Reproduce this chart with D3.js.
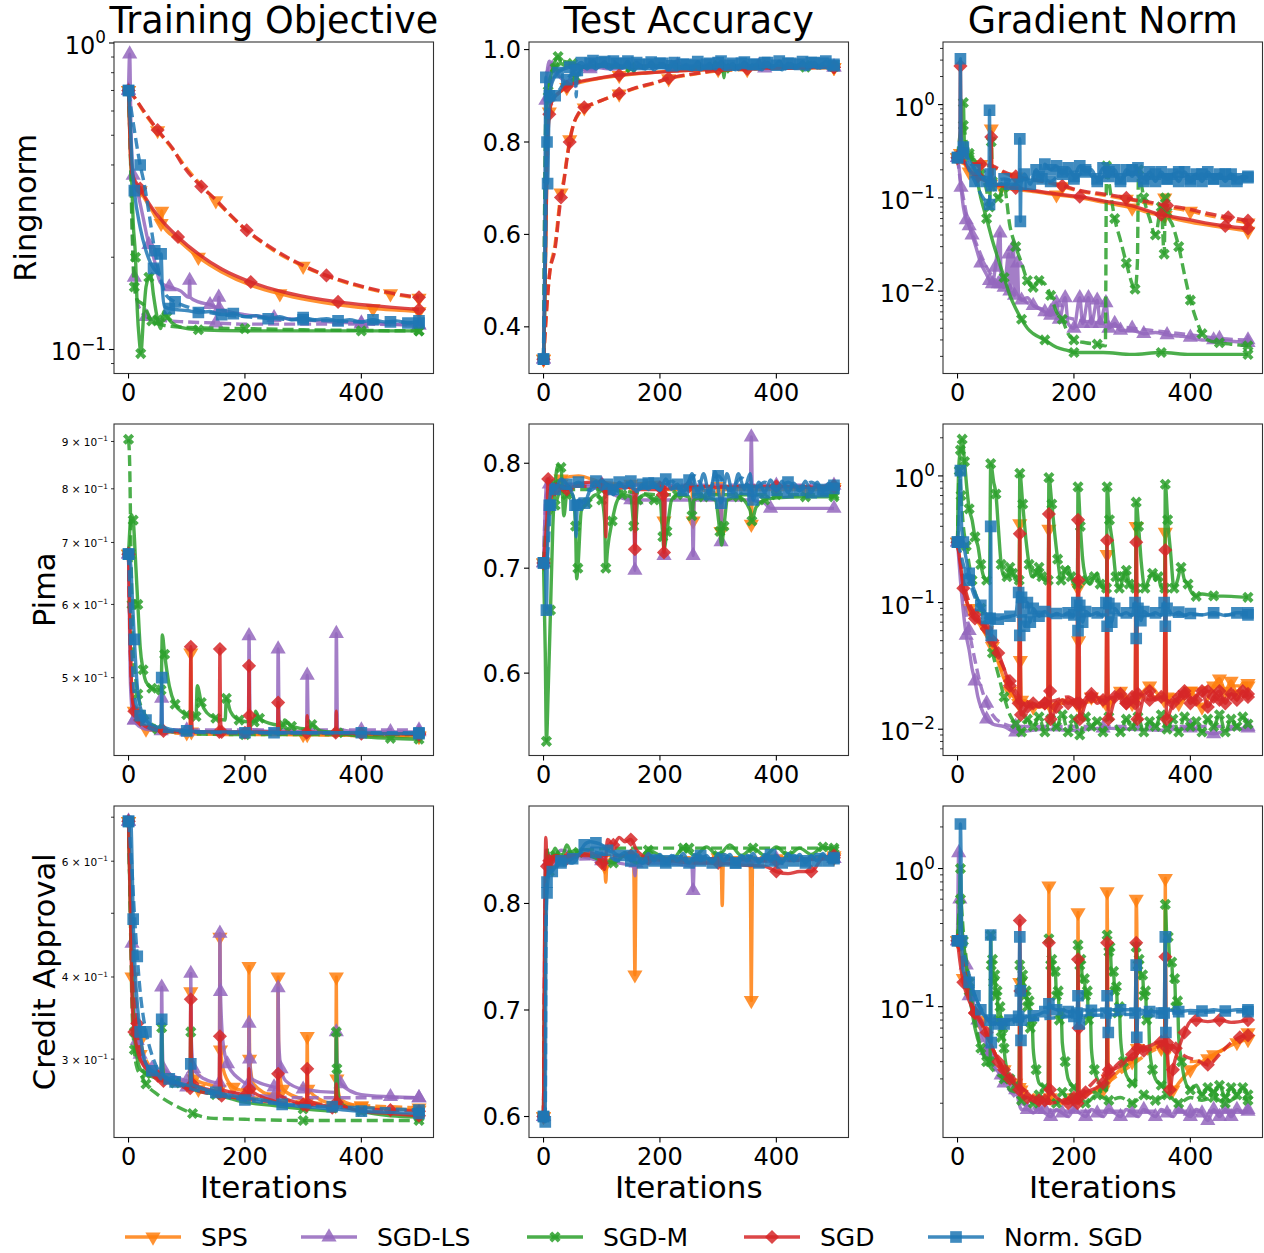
<!DOCTYPE html>
<html><head><meta charset="utf-8">
<script src="https://cdn.jsdelivr.net/npm/d3@7"></script>
<style>body{margin:0;background:#fff}svg{display:block}text{font-family:"DejaVu Sans",sans-serif;fill:#000}</style>
</head><body><svg id="chart" width="1264" height="1253"></svg>
<script>
// ---------------- categories / labels ----------------
const methods = ["SPS", "SGD-LS", "SGD-M", "SGD", "Norm. SGD"];
const colors = ["#ff7f0e", "#9467bd", "#2ca02c", "#d62728", "#1f77b4"];
const datasets = ["Ringnorm", "Pima", "Credit Approval"];
const metrics = ["Training Objective", "Test Accuracy", "Gradient Norm"];
const xTicks = [0, 200, 400];
const xLabel = "Iterations";

// ---------------- data: flat [iteration, value, ...] ----------------
// Ringnorm - training objective
const ro_sps_s = [0,0.70, 3,0.44, 6,0.37, 20,0.33, 40,0.285, 56,0.258, 57,0.283, 58,0.256, 85,0.228, 120,0.2, 160,0.179, 210,0.162, 260,0.152, 310,0.145, 360,0.14, 420,0.136, 475,0.134, 499,0.133];
const ro_sps_d = [0,0.70, 10,0.665, 25,0.60, 50,0.518, 75,0.452, 100,0.39, 150,0.306, 200,0.247, 250,0.21, 300,0.187, 350,0.171, 400,0.16, 450,0.152, 499,0.147];
const ro_ls_s = [0,0.70, 2,0.92, 4,0.55, 8,0.37, 15,0.33, 25,0.27, 35,0.22, 43,0.2, 55,0.165, 70,0.16, 90,0.155, 104,0.148, 105,0.168, 106,0.148, 120,0.143, 140,0.14, 154,0.137, 155,0.148, 156,0.136, 180,0.132, 200,0.13, 250,0.127, 300,0.125, 350,0.123, 400,0.122, 450,0.121, 499,0.12];
const ro_ls_d = [0,0.70, 4,0.40, 8,0.20, 10,0.172, 15,0.143, 20,0.135, 30,0.128, 50,0.125, 100,0.123, 150,0.122, 200,0.121, 300,0.121, 400,0.121, 499,0.12];
const ro_m_s = [0,0.70, 5,0.38, 8,0.26, 12,0.20, 15,0.135, 19,0.105, 21,0.097, 26,0.13, 30,0.16, 35,0.172, 38,0.175, 43,0.15, 50,0.125, 55,0.117, 61,0.133, 66,0.128, 75,0.122, 90,0.118, 120,0.116, 200,0.115, 300,0.115, 400,0.115, 499,0.115];
const ro_m_d = [0,0.70, 3,0.45, 6,0.25, 10,0.16, 15,0.145, 26,0.14, 40,0.124, 60,0.12, 100,0.118, 200,0.117, 300,0.116, 499,0.115];
const ro_sgd_s = [0,0.70, 3,0.45, 6,0.375, 20,0.335, 40,0.29, 60,0.26, 85,0.233, 120,0.205, 160,0.183, 210,0.166, 260,0.155, 310,0.148, 360,0.143, 420,0.139, 499,0.135];
const ro_sgd_d = [0,0.70, 10,0.665, 25,0.605, 50,0.52, 75,0.455, 93,0.40, 125,0.34, 150,0.308, 175,0.275, 203,0.245, 250,0.212, 300,0.188, 340,0.1745, 400,0.161, 450,0.153, 499,0.148];
const ro_n_s = [0,0.70, 3,0.55, 6,0.405, 10,0.33, 20,0.25, 30,0.21, 43,0.184, 50,0.178, 55,0.175, 56,0.205, 58,0.16, 62,0.138, 70,0.136, 80,0.135, 100,0.134, 120,0.132, 140,0.133, 160,0.13, 180,0.131, 200,0.128, 220,0.129, 240,0.126, 260,0.128, 280,0.125, 300,0.127, 320,0.125, 340,0.126, 360,0.124, 380,0.125, 400,0.123, 420,0.125, 440,0.123, 460,0.124, 480,0.122, 499,0.124];
const ro_n_d = [0,0.70, 5,0.60, 10,0.52, 20,0.40, 26,0.355, 35,0.28, 45,0.21, 55,0.17, 65,0.15, 80,0.143, 100,0.138, 130,0.133, 160,0.13, 200,0.128, 250,0.126, 300,0.125, 350,0.124, 400,0.123, 450,0.123, 499,0.122];

// Ringnorm - test accuracy
const ra_sps_s = [0,0.33, 3,0.52, 6,0.76, 10,0.865, 15,0.89, 25,0.905, 40,0.918, 60,0.928, 80,0.934, 130,0.944, 180,0.95, 250,0.955, 300,0.957, 350,0.96, 400,0.96, 499,0.961];
const ra_sps_d = [0,0.33, 10,0.51, 20,0.58, 30,0.69, 35,0.72, 40,0.765, 45,0.805, 52,0.84, 60,0.86, 70,0.874, 85,0.882, 100,0.89, 130,0.904, 160,0.917, 190,0.927, 215,0.937, 260,0.947, 300,0.954, 350,0.957, 400,0.96, 499,0.961];
const ra_ls_s = [0,0.33, 2,0.48, 3,0.70, 4,0.89, 7,0.96, 10,0.975, 15,0.96, 25,0.945, 40,0.93, 50,0.935, 55,0.92, 60,0.95, 80,0.962, 120,0.958, 170,0.965, 220,0.96, 270,0.966, 320,0.96, 370,0.965, 420,0.96, 470,0.964, 499,0.962];
const ra_ls_d = [0,0.33, 3,0.75, 6,0.83, 10,0.90, 20,0.95, 40,0.96, 80,0.958, 130,0.965, 180,0.96, 230,0.966, 280,0.96, 330,0.965, 380,0.96, 430,0.966, 499,0.962];
const ra_m_s = [0,0.33, 3,0.53, 5,0.86, 8,0.91, 15,0.955, 20,0.975, 25,0.985, 30,0.97, 40,0.965, 50,0.97, 70,0.962, 100,0.968, 150,0.962, 200,0.966, 250,0.96, 300,0.962, 308,0.96, 310,0.939, 312,0.96, 350,0.965, 400,0.962, 450,0.966, 499,0.963];
const ra_m_d = [0,0.33, 4,0.86, 10,0.93, 20,0.96, 30,0.975, 45,0.97, 55,0.94, 60,0.96, 100,0.965, 150,0.96, 200,0.965, 250,0.962, 300,0.966, 350,0.96, 400,0.965, 450,0.962, 499,0.964];
const ra_sgd_s = [0,0.33, 3,0.52, 6,0.75, 10,0.86, 15,0.89, 25,0.905, 40,0.92, 60,0.93, 80,0.935, 130,0.945, 180,0.95, 250,0.955, 300,0.958, 350,0.96, 400,0.96, 499,0.962];
const ra_sgd_d = [0,0.33, 10,0.51, 20,0.57, 30,0.68, 35,0.714, 40,0.76, 45,0.80, 52,0.84, 60,0.862, 70,0.875, 85,0.883, 100,0.89, 130,0.905, 160,0.918, 190,0.928, 215,0.938, 260,0.948, 300,0.955, 350,0.958, 400,0.96, 499,0.962];
const ra_n_s = [0,0.33, 2,0.53, 4,0.94, 7,0.71, 10,0.90, 15,0.93, 25,0.95, 35,0.958, 45,0.962, 55,0.965, 65,0.972, 75,0.958, 85,0.976, 95,0.962, 105,0.974, 115,0.957, 125,0.97, 135,0.96, 145,0.975, 155,0.955, 165,0.968, 175,0.958, 185,0.973, 195,0.96, 205,0.97, 215,0.956, 225,0.972, 235,0.96, 245,0.968, 255,0.956, 265,0.974, 275,0.96, 285,0.97, 295,0.958, 305,0.975, 315,0.96, 325,0.97, 335,0.957, 345,0.973, 355,0.96, 365,0.968, 375,0.956, 385,0.972, 395,0.962, 405,0.975, 415,0.958, 425,0.97, 435,0.96, 445,0.974, 455,0.957, 465,0.972, 475,0.96, 485,0.975, 495,0.96, 499,0.968];
const ra_n_d = [0,0.33, 3,0.53, 6,0.80, 10,0.88, 20,0.90, 29,0.916, 40,0.935, 50,0.95, 55,0.955, 56,0.898, 58,0.955, 70,0.962, 80,0.97, 90,0.958, 100,0.972, 110,0.96, 120,0.975, 130,0.962, 140,0.97, 150,0.957, 160,0.972, 170,0.96, 180,0.968, 190,0.956, 200,0.97, 210,0.96, 220,0.965, 230,0.956, 240,0.968, 250,0.958, 260,0.966, 270,0.956, 280,0.968, 290,0.96, 300,0.972, 310,0.958, 320,0.966, 330,0.956, 340,0.97, 350,0.96, 360,0.968, 370,0.958, 380,0.972, 390,0.96, 400,0.966, 410,0.956, 420,0.97, 430,0.96, 440,0.968, 450,0.956, 460,0.972, 470,0.96, 480,0.97, 490,0.958, 499,0.965];

// Ringnorm - gradient norm
const rg_sps_s = [0,0.27, 5,0.3, 10,0.25, 20,0.19, 35,0.165, 50,0.15, 57,0.14, 58,0.55, 59,0.14, 75,0.13, 100,0.123, 130,0.117, 170,0.108, 210,0.1, 250,0.09, 300,0.078, 355,0.065, 356,0.1, 357,0.065, 400,0.055, 460,0.048, 499,0.044];
const rg_sps_d = [0,0.27, 10,0.235, 20,0.232, 40,0.228, 60,0.215, 80,0.185, 100,0.168, 125,0.158, 150,0.148, 180,0.132, 210,0.118, 250,0.107, 290,0.097, 330,0.087, 360,0.08, 400,0.072, 430,0.065, 465,0.059, 499,0.054];
const rg_ls_s = [0,0.27, 3,0.2, 6,0.13, 10,0.08, 15,0.058, 20,0.05, 25,0.04, 30,0.032, 40,0.02, 50,0.015, 55,0.013, 60,0.012, 65,0.018, 73,0.042, 75,0.012, 80,0.011, 88,0.025, 90,0.01, 96,0.03, 98,0.009, 103,0.02, 105,0.009, 110,0.008, 120,0.0085, 130,0.007, 140,0.0065, 150,0.006, 160,0.0055, 170,0.0075, 175,0.005, 185,0.0085, 190,0.0045, 200,0.004, 210,0.0085, 215,0.0045, 225,0.0085, 230,0.0045, 240,0.008, 245,0.0045, 255,0.0075, 260,0.004, 270,0.0045, 280,0.0038, 300,0.0038, 320,0.0035, 340,0.0036, 360,0.0034, 380,0.0033, 400,0.0032, 420,0.003, 440,0.003, 470,0.0029, 499,0.0028];
const rg_ls_d = [0,0.27, 5,0.15, 10,0.1, 20,0.05, 30,0.035, 50,0.018, 70,0.012, 100,0.009, 130,0.007, 160,0.006, 200,0.005, 250,0.0045, 300,0.004, 350,0.0037, 400,0.0034, 450,0.0031, 499,0.003];
const rg_m_s = [0,0.27, 5,0.4, 8,0.6, 10,1.05, 12,0.35, 15,0.3, 20,0.28, 30,0.2, 40,0.1, 50,0.06, 60,0.035, 70,0.022, 80,0.014, 90,0.009, 100,0.0065, 110,0.005, 120,0.004, 130,0.0035, 150,0.003, 170,0.0025, 190,0.0023, 200,0.0022, 250,0.0022, 300,0.0021, 350,0.0022, 400,0.0021, 450,0.0021, 499,0.0021];
const rg_m_d = [0,0.27, 5,0.5, 10,0.6, 15,0.4, 20,0.3, 30,0.25, 40,0.18, 50,0.12, 55,0.08, 58,0.4, 60,0.15, 70,0.1, 80,0.13, 90,0.05, 100,0.03, 110,0.02, 120,0.013, 130,0.011, 140,0.013, 150,0.012, 160,0.009, 170,0.006, 180,0.005, 190,0.0035, 200,0.003, 220,0.0028, 240,0.0027, 254,0.0026, 256,0.22, 260,0.15, 270,0.06, 280,0.035, 290,0.02, 300,0.012, 305,0.0105, 309,0.02, 311,0.2, 315,0.15, 320,0.1, 330,0.06, 340,0.04, 350,0.08, 355,0.025, 357,0.1, 360,0.07, 370,0.05, 380,0.03, 390,0.015, 400,0.008, 410,0.005, 420,0.0035, 430,0.003, 450,0.0028, 470,0.0027, 499,0.0026];
const rg_sgd_s = [0,0.27, 4,0.27, 5,2.6, 6,0.3, 10,0.26, 20,0.2, 35,0.17, 50,0.15, 57,0.14, 58,0.45, 59,0.14, 75,0.135, 100,0.128, 130,0.12, 170,0.11, 210,0.103, 250,0.093, 300,0.082, 350,0.066, 400,0.058, 425,0.054, 460,0.05, 499,0.047];
const rg_sgd_d = [0,0.27, 10,0.24, 20,0.235, 40,0.23, 60,0.22, 80,0.19, 100,0.17, 125,0.16, 150,0.15, 180,0.135, 210,0.12, 250,0.11, 290,0.1, 305,0.095, 330,0.09, 360,0.083, 400,0.075, 430,0.068, 465,0.062, 499,0.057];
const rg_n_s = [0,0.27, 4,0.27, 5,3.1, 6,0.45, 10,0.35, 20,0.25, 30,0.2, 40,0.17, 50,0.15, 54,0.14, 55,0.87, 56,0.15, 58,0.135, 70,0.14, 90,0.14, 106,0.14, 107,0.43, 108,0.056, 109,0.14, 115,0.18, 125,0.14, 135,0.2, 145,0.16, 150,0.23, 160,0.2, 170,0.22, 180,0.18, 190,0.21, 200,0.17, 210,0.22, 220,0.19, 230,0.2, 240,0.16, 250,0.21, 260,0.17, 270,0.2, 280,0.15, 290,0.2, 300,0.17, 310,0.21, 320,0.16, 330,0.19, 340,0.15, 350,0.19, 360,0.16, 370,0.18, 380,0.15, 390,0.19, 400,0.16, 410,0.18, 420,0.15, 430,0.19, 440,0.16, 450,0.18, 460,0.15, 470,0.18, 480,0.16, 490,0.17, 499,0.165];
const rg_n_d = [0,0.27, 10,0.3, 20,0.2, 30,0.15, 40,0.11, 50,0.09, 55,0.085, 56,0.18, 60,0.15, 80,0.16, 100,0.15, 120,0.16, 140,0.17, 160,0.15, 180,0.19, 200,0.16, 220,0.2, 240,0.15, 260,0.19, 280,0.16, 300,0.2, 320,0.15, 340,0.18, 360,0.16, 380,0.19, 400,0.15, 420,0.18, 440,0.16, 460,0.18, 480,0.15, 499,0.17];

// Pima - training objective
const po_sps_s = [0,0.68, 3,0.55, 6,0.48, 10,0.46, 20,0.447, 40,0.44, 100,0.436, 106,0.436, 107,0.532, 108,0.437, 200,0.435, 300,0.434, 307,0.434, 400,0.433, 499,0.432];
const po_sps_d = [0,0.68, 5,0.5, 10,0.46, 30,0.44, 100,0.435, 200,0.434, 300,0.434, 400,0.433, 499,0.433];
const po_ls_s = [0,0.68, 3,0.50, 6,0.462, 10,0.45, 15,0.445, 30,0.44, 56,0.438, 57,0.475, 58,0.438, 100,0.437, 150,0.437, 206,0.437, 207,0.555, 209,0.44, 256,0.437, 257,0.537, 259,0.44, 306,0.437, 307,0.503, 309,0.44, 356,0.437, 357,0.558, 359,0.44, 400,0.437, 450,0.437, 499,0.437];
const po_ls_d = [0,0.68, 3,0.55, 6,0.47, 10,0.45, 20,0.443, 50,0.44, 100,0.439, 200,0.439, 300,0.439, 400,0.439, 499,0.439];
const po_m_s = [0,0.68, 5,0.75, 8,0.74, 12,0.67, 16,0.60, 20,0.54, 25,0.51, 30,0.495, 40,0.487, 50,0.485, 56,0.485, 58,0.556, 62,0.53, 70,0.49, 80,0.468, 90,0.46, 100,0.456, 110,0.455, 116,0.454, 118,0.49, 125,0.47, 135,0.458, 150,0.452, 166,0.45, 168,0.475, 175,0.46, 190,0.45, 210,0.448, 216,0.448, 218,0.46, 225,0.452, 250,0.445, 266,0.444, 268,0.45, 280,0.443, 310,0.44, 315,0.445, 330,0.438, 360,0.436, 400,0.432, 450,0.43, 499,0.429];
const po_m_d = [0,0.905, 2,0.85, 4,0.70, 6,0.60, 8,0.53, 12,0.50, 16,0.48, 25,0.46, 35,0.45, 50,0.44, 80,0.437, 100,0.435, 200,0.434, 300,0.434, 400,0.434, 499,0.434];
const po_sgd_s = [0,0.68, 3,0.54, 6,0.48, 10,0.46, 20,0.448, 40,0.44, 60,0.438, 100,0.437, 106,0.437, 107,0.54, 108,0.467, 110,0.437, 156,0.437, 157,0.537, 158,0.452, 160,0.437, 206,0.437, 207,0.515, 208,0.455, 210,0.437, 256,0.437, 257,0.47, 258,0.45, 260,0.437, 306,0.436, 307,0.455, 308,0.437, 356,0.436, 357,0.46, 358,0.437, 400,0.435, 450,0.435, 499,0.434];
const po_sgd_d = [0,0.68, 3,0.54, 8,0.47, 20,0.45, 50,0.44, 100,0.437, 200,0.436, 300,0.436, 400,0.435, 499,0.435];
const po_n_s = [0,0.68, 4,0.66, 6,0.62, 10,0.55, 15,0.49, 20,0.465, 30,0.45, 45,0.443, 56,0.442, 57,0.50, 58,0.443, 70,0.44, 100,0.438, 150,0.437, 200,0.437, 250,0.436, 300,0.436, 350,0.436, 400,0.436, 450,0.435, 499,0.435];
const po_n_d = [0,0.68, 5,0.55, 10,0.48, 20,0.455, 40,0.44, 80,0.437, 200,0.436, 300,0.436, 400,0.436, 499,0.436];

// Pima - test accuracy
const pa_sps_s = [0,0.705, 5,0.74, 10,0.77, 30,0.785, 60,0.788, 100,0.782, 150,0.78, 200,0.782, 205,0.77, 207,0.745, 209,0.775, 255,0.775, 257,0.745, 259,0.775, 303,0.77, 305,0.735, 307,0.775, 355,0.775, 357,0.742, 359,0.775, 400,0.775, 450,0.775, 499,0.775];
const pa_sps_d = [0,0.705, 5,0.73, 10,0.76, 30,0.78, 100,0.78, 200,0.778, 300,0.778, 400,0.777, 499,0.777];
const pa_ls_s = [0,0.705, 3,0.76, 6,0.785, 10,0.78, 30,0.78, 100,0.775, 150,0.765, 155,0.765, 157,0.698, 159,0.765, 200,0.765, 205,0.765, 207,0.712, 209,0.765, 255,0.765, 257,0.712, 259,0.765, 303,0.765, 305,0.725, 307,0.765, 355,0.765, 357,0.825, 359,0.765, 380,0.762, 390,0.757, 440,0.757, 499,0.757];
const pa_ls_d = [0,0.705, 5,0.77, 20,0.78, 100,0.78, 200,0.779, 300,0.779, 400,0.779, 499,0.779];
const pa_m_s = [0,0.705, 3,0.62, 5,0.535, 8,0.583, 12,0.66, 16,0.74, 20,0.78, 25,0.798, 30,0.796, 35,0.75, 40,0.77, 50,0.77, 55,0.74, 57,0.69, 59,0.70, 65,0.755, 75,0.762, 90,0.77, 100,0.765, 105,0.745, 107,0.70, 110,0.718, 118,0.745, 125,0.762, 135,0.77, 150,0.768, 155,0.74, 157,0.735, 162,0.765, 175,0.77, 190,0.765, 200,0.765, 205,0.73, 207,0.718, 212,0.735, 220,0.765, 230,0.77, 250,0.768, 255,0.75, 258,0.765, 275,0.768, 295,0.765, 303,0.735, 306,0.722, 310,0.74, 316,0.765, 335,0.768, 355,0.755, 358,0.745, 365,0.758, 380,0.765, 400,0.767, 450,0.768, 499,0.768];
const pa_m_d = [0,0.705, 5,0.74, 10,0.75, 20,0.76, 30,0.775, 50,0.775, 100,0.775, 200,0.77, 300,0.77, 400,0.77, 499,0.77];
const pa_sgd_s = [0,0.705, 3,0.725, 6,0.75, 8,0.785, 12,0.775, 20,0.78, 40,0.775, 60,0.78, 80,0.782, 100,0.78, 105,0.775, 107,0.73, 109,0.775, 150,0.777, 155,0.775, 157,0.718, 159,0.775, 200,0.775, 205,0.77, 207,0.715, 209,0.775, 250,0.778, 300,0.777, 350,0.778, 400,0.778, 450,0.777, 499,0.778];
const pa_sgd_d = [0,0.705, 5,0.72, 10,0.76, 20,0.775, 50,0.778, 100,0.778, 200,0.777, 300,0.778, 400,0.778, 499,0.778];
const pa_n_s = [0,0.705, 3,0.705, 5,0.66, 7,0.725, 10,0.76, 15,0.78, 20,0.775, 30,0.785, 40,0.78, 50,0.77, 54,0.76, 56,0.73, 58,0.76, 60,0.765, 70,0.762, 80,0.775, 90,0.783, 100,0.775, 110,0.78, 120,0.77, 130,0.782, 140,0.776, 150,0.783, 160,0.773, 170,0.78, 180,0.775, 190,0.781, 200,0.774, 210,0.785, 220,0.775, 230,0.78, 240,0.772, 250,0.784, 255,0.79, 265,0.772, 275,0.79, 285,0.77, 295,0.792, 305,0.762, 315,0.79, 325,0.772, 335,0.79, 345,0.775, 355,0.79, 360,0.765, 370,0.782, 380,0.772, 390,0.784, 400,0.774, 410,0.783, 420,0.772, 430,0.781, 440,0.774, 450,0.783, 460,0.772, 470,0.782, 480,0.773, 490,0.781, 499,0.776];
const pa_n_d = [0,0.705, 4,0.70, 8,0.72, 12,0.76, 20,0.78, 40,0.776, 60,0.782, 80,0.774, 100,0.783, 120,0.775, 140,0.782, 160,0.774, 180,0.781, 200,0.775, 220,0.783, 240,0.774, 260,0.788, 280,0.772, 300,0.788, 320,0.774, 340,0.786, 360,0.774, 380,0.782, 400,0.775, 420,0.782, 440,0.774, 460,0.782, 480,0.775, 499,0.779];

// Pima - gradient norm
const pg_sps_s = [0,0.3, 10,0.13, 20,0.09, 40,0.065, 60,0.045, 80,0.025, 90,0.02, 100,0.017, 105,0.016, 107,0.42, 108,0.035, 110,0.016, 130,0.015, 155,0.015, 157,0.38, 158,0.06, 160,0.015, 180,0.017, 205,0.016, 207,0.13, 208,0.05, 210,0.015, 230,0.018, 255,0.016, 257,0.24, 258,0.03, 260,0.016, 280,0.02, 300,0.016, 305,0.018, 307,0.4, 309,0.018, 330,0.022, 355,0.017, 357,0.36, 358,0.04, 360,0.018, 380,0.016, 400,0.02, 420,0.015, 440,0.022, 450,0.025, 460,0.02, 470,0.024, 480,0.019, 490,0.023, 499,0.023];
const pg_sps_d = [0,0.3, 10,0.14, 30,0.08, 50,0.06, 70,0.035, 90,0.02, 110,0.017, 150,0.016, 200,0.016, 250,0.017, 300,0.018, 350,0.018, 400,0.02, 450,0.022, 499,0.022];
const pg_ls_s = [0,0.3, 5,0.15, 10,0.085, 15,0.055, 20,0.042, 25,0.03, 30,0.024, 35,0.018, 40,0.015, 50,0.012, 60,0.011, 80,0.0105, 100,0.0095, 150,0.01, 200,0.0098, 250,0.0102, 300,0.01, 350,0.0098, 400,0.0102, 440,0.0092, 470,0.01, 499,0.0102];
const pg_ls_d = [0,0.3, 5,0.2, 10,0.12, 20,0.06, 30,0.035, 40,0.022, 50,0.016, 60,0.013, 80,0.011, 100,0.0105, 200,0.0105, 300,0.0105, 400,0.0105, 499,0.0105];
const pg_m_s = [0,0.3, 2,1.15, 5,1.6, 8,1.95, 12,1.3, 16,0.8, 20,0.55, 25,0.45, 30,0.33, 35,0.28, 40,0.2, 45,0.16, 50,0.15, 55,0.15, 57,1.25, 62,0.9, 66,0.72, 70,0.4, 75,0.2, 80,0.16, 85,0.16, 90,0.19, 95,0.17, 100,0.15, 106,0.15, 107,1.05, 112,0.6, 118,0.3, 123,0.2, 128,0.16, 135,0.17, 140,0.19, 145,0.16, 150,0.15, 156,0.15, 157,0.97, 162,0.6, 167,0.35, 172,0.22, 178,0.15, 185,0.18, 190,0.19, 195,0.16, 200,0.14, 206,0.14, 207,0.82, 211,0.4, 215,0.22, 222,0.15, 228,0.14, 235,0.16, 240,0.17, 245,0.14, 250,0.13, 256,0.13, 257,0.82, 261,0.45, 266,0.3, 272,0.16, 278,0.13, 285,0.16, 290,0.18, 295,0.14, 300,0.13, 306,0.13, 307,0.62, 311,0.4, 316,0.2, 322,0.13, 328,0.15, 335,0.17, 340,0.15, 345,0.16, 350,0.13, 356,0.13, 357,0.86, 361,0.45, 366,0.25, 372,0.13, 378,0.15, 384,0.19, 390,0.15, 396,0.14, 400,0.125, 410,0.112, 420,0.117, 440,0.113, 470,0.112, 499,0.11];
const pg_m_d = [0,0.3, 3,1.1, 6,0.7, 10,0.4, 15,0.28, 20,0.2, 25,0.15, 30,0.12, 40,0.09, 50,0.06, 60,0.04, 70,0.027, 80,0.018, 90,0.013, 100,0.011, 110,0.0095, 120,0.012, 130,0.0105, 140,0.0125, 150,0.0095, 160,0.012, 170,0.0105, 180,0.013, 190,0.0095, 200,0.012, 210,0.009, 220,0.0125, 230,0.0105, 240,0.0115, 250,0.0095, 260,0.0125, 270,0.011, 280,0.0095, 290,0.012, 300,0.0105, 310,0.0125, 320,0.0095, 330,0.0115, 340,0.0105, 350,0.013, 360,0.01, 370,0.012, 380,0.0095, 390,0.0125, 400,0.0105, 410,0.0115, 420,0.0095, 430,0.012, 440,0.0105, 450,0.013, 460,0.0095, 470,0.012, 480,0.0105, 490,0.0125, 499,0.011];
const pg_sgd_s = [0,0.3, 5,0.2, 10,0.13, 20,0.09, 30,0.075, 40,0.068, 50,0.062, 60,0.05, 70,0.04, 80,0.03, 90,0.022, 100,0.018, 105,0.016, 107,0.35, 109,0.013, 120,0.015, 130,0.016, 140,0.015, 150,0.016, 155,0.016, 157,0.5, 158,0.16, 159,0.02, 160,0.012, 170,0.015, 180,0.017, 190,0.016, 200,0.017, 205,0.016, 207,0.45, 208,0.15, 209,0.065, 210,0.012, 220,0.016, 230,0.018, 240,0.016, 250,0.017, 255,0.016, 257,0.31, 258,0.065, 259,0.012, 270,0.017, 280,0.019, 290,0.016, 300,0.018, 305,0.016, 307,0.3, 308,0.15, 309,0.012, 320,0.018, 330,0.02, 340,0.017, 350,0.018, 355,0.017, 357,0.26, 358,0.07, 359,0.012, 370,0.016, 380,0.018, 390,0.02, 400,0.016, 410,0.018, 420,0.02, 430,0.015, 440,0.018, 450,0.02, 460,0.016, 470,0.019, 480,0.017, 490,0.02, 499,0.018];
const pg_sgd_d = [0,0.3, 10,0.15, 20,0.1, 30,0.08, 40,0.07, 50,0.063, 60,0.05, 70,0.038, 80,0.03, 90,0.024, 100,0.02, 110,0.017, 120,0.015, 130,0.016, 140,0.015, 150,0.016, 170,0.017, 190,0.018, 210,0.016, 230,0.019, 250,0.017, 270,0.018, 290,0.016, 310,0.019, 330,0.017, 350,0.018, 370,0.016, 390,0.019, 410,0.017, 430,0.02, 450,0.017, 470,0.019, 490,0.018, 499,0.019];
const pg_n_s = [0,0.3, 3,0.5, 5,1.1, 7,0.4, 10,0.3, 15,0.22, 20,0.17, 30,0.12, 40,0.095, 50,0.08, 56,0.075, 57,0.4, 58,0.055, 60,0.075, 70,0.074, 80,0.076, 90,0.078, 100,0.08, 105,0.12, 107,0.055, 110,0.11, 115,0.065, 120,0.1, 125,0.07, 130,0.09, 140,0.078, 150,0.085, 160,0.078, 170,0.082, 180,0.079, 190,0.083, 200,0.078, 205,0.1, 207,0.06, 210,0.095, 215,0.07, 220,0.085, 230,0.08, 240,0.083, 250,0.078, 255,0.1, 257,0.065, 260,0.098, 265,0.07, 270,0.09, 280,0.08, 290,0.083, 300,0.079, 305,0.1, 307,0.052, 310,0.09, 315,0.072, 320,0.085, 330,0.08, 340,0.083, 350,0.079, 355,0.1, 357,0.065, 360,0.09, 370,0.08, 380,0.084, 390,0.079, 400,0.082, 420,0.08, 440,0.083, 460,0.079, 480,0.083, 499,0.083];
const pg_n_d = [0,0.3, 5,0.25, 10,0.2, 20,0.15, 30,0.11, 40,0.09, 50,0.075, 60,0.075, 100,0.078, 200,0.08, 300,0.08, 400,0.08, 499,0.08];

// Credit Approval - training objective
const co_sps_s = [0,0.69, 3,0.52, 6,0.4, 10,0.34, 20,0.305, 40,0.29, 60,0.282, 80,0.278, 100,0.275, 106,0.274, 107,0.38, 108,0.3, 112,0.28, 150,0.272, 156,0.27, 157,0.46, 158,0.31, 165,0.285, 180,0.272, 200,0.268, 206,0.267, 207,0.415, 208,0.3, 215,0.275, 250,0.263, 256,0.262, 257,0.40, 258,0.3, 265,0.27, 300,0.26, 306,0.258, 307,0.325, 308,0.27, 350,0.256, 356,0.255, 357,0.40, 358,0.28, 365,0.26, 400,0.254, 450,0.252, 499,0.251];
const co_sps_d = [0,0.69, 5,0.5, 10,0.4, 20,0.32, 40,0.29, 80,0.277, 120,0.27, 200,0.263, 300,0.258, 400,0.255, 499,0.253];
const co_ls_s = [0,0.69, 3,0.55, 6,0.45, 10,0.36, 15,0.32, 20,0.305, 40,0.29, 56,0.285, 57,0.386, 58,0.32, 60,0.29, 80,0.282, 100,0.278, 106,0.277, 107,0.405, 108,0.32, 112,0.29, 130,0.28, 156,0.276, 157,0.466, 158,0.38, 162,0.32, 170,0.295, 190,0.28, 206,0.275, 207,0.34, 208,0.3, 212,0.28, 250,0.272, 256,0.271, 257,0.385, 258,0.32, 262,0.29, 270,0.278, 300,0.27, 356,0.267, 357,0.33, 358,0.3, 365,0.275, 400,0.265, 450,0.263, 499,0.262];
const co_ls_d = [0,0.69, 5,0.45, 10,0.34, 20,0.305, 30,0.29, 60,0.28, 100,0.272, 150,0.268, 200,0.265, 250,0.263, 300,0.262, 400,0.262, 499,0.262];
const co_m_s = [0,0.69, 3,0.52, 6,0.4, 10,0.33, 15,0.3, 20,0.29, 30,0.285, 50,0.28, 56,0.278, 57,0.335, 58,0.3, 62,0.28, 80,0.276, 100,0.272, 106,0.27, 107,0.33, 108,0.29, 112,0.27, 150,0.265, 200,0.258, 250,0.255, 300,0.252, 356,0.25, 357,0.33, 358,0.29, 362,0.26, 370,0.255, 400,0.25, 450,0.246, 499,0.245];
const co_m_d = [0,0.69, 3,0.5, 6,0.36, 10,0.31, 15,0.29, 20,0.285, 30,0.275, 50,0.265, 80,0.255, 110,0.248, 140,0.244, 200,0.243, 300,0.242, 400,0.242, 499,0.242];
const co_sgd_s = [0,0.69, 3,0.52, 6,0.37, 10,0.33, 20,0.3, 40,0.285, 60,0.278, 80,0.275, 100,0.272, 106,0.271, 107,0.37, 108,0.3, 110,0.275, 150,0.268, 156,0.267, 157,0.325, 158,0.285, 160,0.27, 200,0.264, 206,0.262, 207,0.29, 208,0.27, 250,0.259, 256,0.258, 257,0.285, 258,0.265, 300,0.256, 306,0.255, 307,0.29, 308,0.26, 350,0.253, 356,0.252, 357,0.275, 358,0.258, 400,0.25, 450,0.248, 499,0.246];
const co_sgd_d = [0,0.69, 5,0.52, 10,0.4, 15,0.34, 20,0.31, 30,0.295, 50,0.283, 80,0.275, 120,0.268, 160,0.264, 200,0.261, 250,0.258, 300,0.256, 350,0.254, 400,0.252, 450,0.251, 499,0.25];
const co_n_s = [0,0.69, 4,0.69, 6,0.605, 8,0.49, 12,0.40, 15,0.365, 20,0.33, 25,0.305, 30,0.295, 40,0.288, 50,0.285, 56,0.28, 57,0.345, 58,0.29, 60,0.282, 80,0.277, 100,0.274, 106,0.273, 107,0.295, 108,0.275, 120,0.272, 150,0.267, 200,0.262, 230,0.26, 264,0.256, 300,0.254, 350,0.252, 400,0.25, 450,0.249, 499,0.248];
const co_n_d = [0,0.69, 5,0.6, 10,0.5, 15,0.43, 20,0.38, 25,0.35, 30,0.33, 40,0.305, 50,0.29, 70,0.28, 100,0.272, 150,0.265, 200,0.26, 250,0.257, 300,0.255, 350,0.254, 400,0.253, 450,0.252, 499,0.251];

// Credit Approval - test accuracy
const ca_sps_s = [0,0.6, 3,0.78, 6,0.83, 20,0.84, 60,0.845, 100,0.845, 105,0.835, 107,0.82, 109,0.84, 150,0.845, 155,0.835, 157,0.733, 159,0.84, 200,0.842, 250,0.84, 305,0.84, 307,0.798, 309,0.84, 355,0.84, 357,0.709, 359,0.84, 400,0.842, 450,0.842, 499,0.845];
const ca_sps_d = [0,0.6, 3,0.78, 6,0.83, 20,0.84, 100,0.845, 200,0.843, 300,0.843, 400,0.843, 499,0.843];
const ca_ls_s = [0,0.6, 2,0.77, 4,0.85, 10,0.84, 30,0.85, 60,0.845, 100,0.84, 155,0.835, 157,0.826, 159,0.838, 200,0.838, 255,0.835, 257,0.812, 259,0.838, 300,0.838, 400,0.84, 499,0.842];
const ca_ls_d = [0,0.6, 3,0.8, 6,0.84, 100,0.842, 200,0.842, 300,0.842, 400,0.842, 499,0.842];
const ca_m_s = [0,0.6, 3,0.79, 6,0.85, 10,0.83, 15,0.845, 20,0.852, 30,0.84, 40,0.855, 50,0.845, 60,0.848, 80,0.845, 100,0.84, 120,0.838, 140,0.845, 160,0.838, 180,0.85, 200,0.845, 220,0.84, 240,0.852, 260,0.845, 280,0.853, 300,0.845, 320,0.855, 340,0.845, 360,0.852, 380,0.845, 400,0.853, 420,0.845, 440,0.852, 460,0.846, 480,0.853, 499,0.85];
const ca_m_d = [0,0.6, 4,0.8, 8,0.85, 20,0.845, 60,0.85, 150,0.852, 250,0.852, 350,0.852, 450,0.852, 499,0.852];
const ca_sgd_s = [0,0.6, 2,0.78, 4,0.862, 6,0.835, 10,0.84, 20,0.845, 40,0.842, 60,0.845, 80,0.848, 100,0.838, 105,0.832, 110,0.86, 120,0.855, 130,0.862, 140,0.858, 150,0.86, 160,0.85, 170,0.845, 180,0.842, 220,0.84, 260,0.838, 300,0.838, 340,0.836, 380,0.835, 400,0.83, 420,0.828, 440,0.83, 460,0.83, 480,0.843, 499,0.845];
const ca_sgd_d = [0,0.6, 3,0.78, 6,0.83, 10,0.84, 50,0.845, 100,0.845, 150,0.845, 200,0.842, 300,0.842, 400,0.84, 499,0.843];
const ca_n_s = [0,0.6, 2,0.6, 3,0.595, 4,0.755, 6,0.81, 10,0.828, 15,0.83, 20,0.835, 30,0.838, 40,0.84, 50,0.842, 60,0.845, 70,0.855, 80,0.858, 90,0.857, 100,0.855, 110,0.85, 120,0.848, 130,0.845, 140,0.848, 150,0.84, 160,0.846, 170,0.838, 180,0.847, 190,0.84, 200,0.846, 210,0.838, 220,0.845, 230,0.84, 240,0.847, 250,0.838, 260,0.846, 270,0.84, 280,0.845, 290,0.838, 300,0.847, 310,0.84, 320,0.846, 330,0.838, 340,0.845, 350,0.84, 360,0.847, 370,0.838, 380,0.846, 390,0.84, 400,0.845, 410,0.838, 420,0.847, 430,0.84, 440,0.846, 450,0.838, 460,0.845, 470,0.84, 480,0.847, 490,0.84, 499,0.843];
const ca_n_d = [0,0.6, 3,0.6, 4,0.76, 6,0.82, 10,0.83, 20,0.832, 30,0.84, 50,0.838, 70,0.85, 90,0.848, 110,0.845, 130,0.84, 150,0.845, 170,0.838, 190,0.845, 210,0.84, 230,0.846, 250,0.838, 270,0.845, 290,0.84, 310,0.846, 330,0.838, 350,0.845, 370,0.84, 390,0.846, 410,0.838, 430,0.845, 450,0.84, 470,0.846, 499,0.842];

// Credit Approval - gradient norm
const cg_sps_s = [0,0.3, 5,0.25, 10,0.16, 20,0.12, 40,0.08, 60,0.05, 80,0.035, 100,0.028, 106,0.026, 107,0.15, 109,0.025, 130,0.022, 150,0.021, 156,0.021, 157,0.75, 158,0.12, 159,0.022, 180,0.02, 200,0.021, 206,0.021, 207,0.48, 208,0.1, 209,0.022, 230,0.024, 250,0.025, 256,0.025, 257,0.68, 258,0.2, 259,0.03, 280,0.035, 300,0.04, 306,0.042, 307,0.6, 308,0.4, 309,0.05, 330,0.05, 350,0.052, 356,0.05, 357,0.85, 358,0.1, 359,0.05, 365,0.03, 370,0.025, 380,0.028, 400,0.035, 420,0.04, 440,0.045, 460,0.05, 480,0.055, 499,0.058];
const cg_sps_d = [0,0.3, 10,0.2, 20,0.12, 40,0.075, 60,0.05, 80,0.035, 100,0.028, 130,0.023, 160,0.021, 200,0.022, 250,0.027, 300,0.038, 350,0.05, 370,0.045, 400,0.04, 430,0.042, 460,0.05, 480,0.058, 499,0.065];
const cg_ls_s = [0,0.3, 2,1.3, 4,0.6, 8,0.35, 15,0.2, 25,0.12, 35,0.08, 45,0.06, 55,0.045, 65,0.036, 75,0.032, 90,0.028, 100,0.025, 110,0.018, 120,0.018, 130,0.017, 140,0.018, 150,0.017, 160,0.016, 170,0.018, 180,0.017, 190,0.016, 200,0.018, 210,0.017, 220,0.016, 230,0.018, 240,0.017, 250,0.016, 260,0.018, 270,0.017, 280,0.016, 290,0.018, 300,0.017, 310,0.016, 320,0.018, 330,0.017, 340,0.016, 350,0.018, 360,0.017, 370,0.016, 380,0.018, 390,0.017, 400,0.016, 410,0.018, 420,0.017, 430,0.015, 440,0.018, 450,0.016, 460,0.018, 470,0.016, 480,0.018, 490,0.017, 499,0.018];
const cg_ls_d = [0,0.3, 5,0.3, 10,0.25, 20,0.12, 30,0.08, 40,0.06, 50,0.048, 60,0.038, 70,0.032, 80,0.028, 100,0.022, 120,0.019, 150,0.018, 200,0.0175, 300,0.0175, 400,0.0175, 499,0.0175];
const cg_m_s = [0,0.3, 3,0.5, 5,1.0, 7,0.4, 10,0.3, 15,0.2, 20,0.13, 30,0.07, 40,0.05, 50,0.042, 56,0.04, 57,0.33, 58,0.2, 60,0.22, 62,0.15, 64,0.17, 66,0.12, 68,0.13, 70,0.08, 73,0.1, 75,0.06, 78,0.07, 80,0.05, 85,0.035, 90,0.03, 95,0.028, 100,0.027, 106,0.026, 107,0.2, 110,0.15, 112,0.17, 115,0.12, 118,0.13, 120,0.1, 123,0.11, 125,0.07, 128,0.08, 130,0.05, 135,0.035, 140,0.028, 150,0.026, 156,0.025, 157,0.31, 160,0.2, 162,0.22, 165,0.17, 168,0.18, 170,0.12, 173,0.13, 175,0.08, 178,0.09, 180,0.055, 185,0.04, 190,0.03, 200,0.026, 206,0.025, 207,0.28, 210,0.2, 212,0.22, 215,0.15, 218,0.16, 220,0.12, 223,0.13, 225,0.08, 228,0.09, 230,0.05, 235,0.035, 240,0.03, 250,0.026, 256,0.025, 257,0.33, 260,0.25, 262,0.27, 265,0.17, 268,0.18, 270,0.13, 273,0.14, 275,0.09, 278,0.1, 280,0.06, 285,0.04, 290,0.032, 300,0.028, 306,0.027, 307,0.27, 310,0.2, 312,0.22, 315,0.16, 318,0.17, 320,0.12, 323,0.13, 325,0.08, 328,0.09, 330,0.05, 335,0.035, 340,0.03, 350,0.027, 356,0.026, 357,0.55, 360,0.3, 362,0.32, 365,0.2, 368,0.21, 370,0.15, 373,0.16, 375,0.1, 378,0.11, 380,0.06, 385,0.04, 390,0.03, 400,0.025, 410,0.027, 420,0.023, 430,0.026, 440,0.024, 450,0.027, 460,0.022, 470,0.026, 480,0.023, 490,0.026, 499,0.023];
const cg_m_d = [0,0.3, 5,0.6, 10,0.35, 20,0.15, 30,0.08, 40,0.05, 50,0.04, 60,0.035, 70,0.032, 80,0.03, 90,0.025, 100,0.024, 110,0.021, 120,0.022, 130,0.02, 140,0.023, 150,0.021, 160,0.022, 170,0.02, 180,0.024, 190,0.021, 200,0.022, 220,0.02, 240,0.023, 260,0.021, 280,0.022, 300,0.02, 320,0.023, 340,0.021, 360,0.023, 380,0.02, 400,0.022, 420,0.021, 440,0.022, 460,0.02, 480,0.022, 499,0.021];
const cg_sgd_s = [0,0.3, 5,0.2, 10,0.15, 20,0.11, 30,0.09, 40,0.08, 50,0.065, 60,0.05, 70,0.04, 80,0.033, 90,0.03, 100,0.027, 106,0.025, 107,0.42, 108,0.13, 109,0.023, 120,0.022, 140,0.02, 150,0.021, 156,0.02, 157,0.29, 158,0.12, 159,0.025, 170,0.022, 190,0.02, 200,0.021, 206,0.02, 207,0.22, 208,0.07, 209,0.022, 220,0.024, 240,0.026, 250,0.028, 256,0.03, 257,0.29, 258,0.04, 260,0.035, 280,0.037, 300,0.045, 306,0.047, 307,0.29, 308,0.065, 310,0.05, 330,0.052, 350,0.056, 356,0.055, 357,0.23, 358,0.06, 360,0.05, 365,0.025, 370,0.035, 380,0.05, 390,0.065, 400,0.078, 410,0.08, 430,0.078, 450,0.08, 470,0.077, 499,0.08];
const cg_sgd_d = [0,0.3, 10,0.2, 20,0.12, 30,0.09, 45,0.07, 60,0.05, 80,0.035, 100,0.028, 120,0.024, 140,0.021, 160,0.02, 180,0.021, 200,0.022, 220,0.025, 240,0.03, 260,0.033, 280,0.04, 300,0.042, 320,0.048, 340,0.05, 360,0.055, 375,0.05, 390,0.044, 410,0.041, 430,0.038, 450,0.045, 470,0.055, 485,0.06, 499,0.062];
const cg_n_s = [0,0.3, 4,0.3, 5,2.1, 6,1.25, 7,0.3, 10,0.18, 20,0.15, 30,0.12, 40,0.095, 50,0.082, 56,0.08, 57,0.33, 58,0.055, 60,0.077, 70,0.075, 80,0.078, 90,0.08, 100,0.082, 105,0.085, 107,0.32, 108,0.13, 109,0.057, 110,0.08, 120,0.085, 130,0.086, 140,0.088, 150,0.092, 155,0.09, 157,0.105, 160,0.1, 170,0.095, 180,0.095, 190,0.092, 200,0.094, 205,0.09, 207,0.12, 209,0.075, 215,0.095, 230,0.094, 250,0.095, 255,0.09, 257,0.12, 259,0.065, 262,0.095, 280,0.095, 300,0.095, 305,0.09, 307,0.2, 308,0.06, 310,0.095, 330,0.092, 350,0.092, 355,0.09, 357,0.32, 358,0.065, 360,0.095, 380,0.092, 400,0.094, 420,0.093, 440,0.095, 460,0.093, 480,0.095, 499,0.095];
const cg_n_d = [0,0.3, 10,0.25, 20,0.17, 30,0.12, 45,0.09, 60,0.075, 80,0.075, 100,0.078, 150,0.082, 200,0.085, 250,0.087, 300,0.088, 350,0.09, 400,0.09, 450,0.092, 499,0.092];

// axis tick values (labels)
const yTicksLin = [[0.4, 0.6, 0.8, 1.0], [0.6, 0.7, 0.8], [0.6, 0.7, 0.8]];
const smallLogLabels = [null, [0.5, 0.6, 0.7, 0.8, 0.9], [0.3, 0.4, 0.6]];

// ---------------- grid of panels (data refs + axis ranges) ----------------
const panelSeries = [
  [[ro_sps_s, ro_sps_d, ro_ls_s, ro_ls_d, ro_m_s, ro_m_d, ro_sgd_s, ro_sgd_d, ro_n_s, ro_n_d],
   [ra_sps_s, ra_sps_d, ra_ls_s, ra_ls_d, ra_m_s, ra_m_d, ra_sgd_s, ra_sgd_d, ra_n_s, ra_n_d],
   [rg_sps_s, rg_sps_d, rg_ls_s, rg_ls_d, rg_m_s, rg_m_d, rg_sgd_s, rg_sgd_d, rg_n_s, rg_n_d]],
  [[po_sps_s, po_sps_d, po_ls_s, po_ls_d, po_m_s, po_m_d, po_sgd_s, po_sgd_d, po_n_s, po_n_d],
   [pa_sps_s, pa_sps_d, pa_ls_s, pa_ls_d, pa_m_s, pa_m_d, pa_sgd_s, pa_sgd_d, pa_n_s, pa_n_d],
   [pg_sps_s, pg_sps_d, pg_ls_s, pg_ls_d, pg_m_s, pg_m_d, pg_sgd_s, pg_sgd_d, pg_n_s, pg_n_d]],
  [[co_sps_s, co_sps_d, co_ls_s, co_ls_d, co_m_s, co_m_d, co_sgd_s, co_sgd_d, co_n_s, co_n_d],
   [ca_sps_s, ca_sps_d, ca_ls_s, ca_ls_d, ca_m_s, ca_m_d, ca_sgd_s, ca_sgd_d, ca_n_s, ca_n_d],
   [cg_sps_s, cg_sps_d, cg_ls_s, cg_ls_d, cg_m_s, cg_m_d, cg_sgd_s, cg_sgd_d, cg_n_s, cg_n_d]]
];
const yDomains = [
  [[0.0835, 1.0075], [0.299, 1.0164], [0.00131, 4.69]],
  [[0.412, 0.94], [0.5215, 0.8374], [0.0062, 2.57]],
  [[0.228, 0.728], [0.5803, 0.8915], [0.0113, 2.835]]
];

// ---------------- layout ----------------
const svg = d3.select("#chart");
const colX = [114, 529, 943], rowY = [42, 424, 806], PW = 319.5, PH = 331.5;

function symbolFor(m) {
  if (m === 0) return {d: d3.symbol(d3.symbolTriangle, 100)(), rot: 180};
  if (m === 1) return {d: d3.symbol(d3.symbolTriangle, 100)(), rot: 0};
  if (m === 2) return {d: d3.symbol(d3.symbolCross, 78)(), rot: 45};
  if (m === 3) return {d: d3.symbol(d3.symbolSquare, 100)(), rot: 45};
  return {d: d3.symbol(d3.symbolSquare, 136)(), rot: 0};
}
function toPairs(a) { const r = []; for (let i = 0; i < a.length; i += 2) r.push([a[i], a[i + 1]]); return r; }

function sciText(sel, exp, prefix, size) {
  sel.append("tspan").text((prefix || "") + "10");
  sel.append("tspan").attr("dy", -0.45 * size).attr("font-size", size * 0.7).text(exp < 0 ? "\u2212" + (-exp) : String(exp));
}

for (let r = 0; r < 3; r++) {
  for (let c = 0; c < 3; c++) {
    const x0 = colX[c], y0 = rowY[r];
    const isLog = c !== 1;
    const x = d3.scaleLinear().domain([-24.95, 523.95]).range([x0, x0 + PW]);
    const y = (isLog ? d3.scaleLog() : d3.scaleLinear()).domain(yDomains[r][c]).range([y0 + PH, y0]);
    const g = svg.append("g");
    const cid = `clip${r}${c}`;
    g.append("clipPath").attr("id", cid).append("rect").attr("x", x0).attr("y", y0).attr("width", PW).attr("height", PH);
    const plot = g.append("g").attr("clip-path", `url(#${cid})`);
    const line = d3.line().x(d => x(d[0])).y(d => y(d[1])).curve(d3.curveMonotoneX);

    panelSeries[r][c].forEach((arr, si) => {
      const m = Math.floor(si / 2), dashed = si % 2 === 1;
      const pts = toPairs(arr);
      plot.append("path").attr("d", line(pts)).attr("fill", "none")
        .attr("stroke", colors[m]).attr("stroke-width", 3.4).attr("stroke-opacity", 0.85)
        .attr("stroke-linejoin", "round")
        .attr("stroke-dasharray", dashed ? "11,5" : null);
      const sym = symbolFor(m);
      const step = pts.length >= 40 ? 2 : 3;
      const mk = pts.filter((p, i) => {
        if (i % step === 0 || i === pts.length - 1) return true;
        if (i > 0 && i < pts.length - 1) {
          const a = pts[i - 1][1], b = pts[i + 1][1], v = p[1];
          const hi = v > a * 1.08 && v > b * 1.08, lo = v < a * 0.93 && v < b * 0.93;
          return hi || lo;
        }
        return false;
      });
      plot.selectAll(null).data(mk).join("path").attr("d", sym.d)
        .attr("transform", d => `translate(${x(d[0])},${y(d[1])}) rotate(${sym.rot})`)
        .attr("fill", colors[m]).attr("fill-opacity", 0.85);
    });

    // frame
    g.append("rect").attr("x", x0).attr("y", y0).attr("width", PW).attr("height", PH)
      .attr("fill", "none").attr("stroke", "#333").attr("stroke-width", 1.1);

    // x ticks
    xTicks.forEach(t => {
      g.append("line").attr("x1", x(t)).attr("x2", x(t)).attr("y1", y0 + PH).attr("y2", y0 + PH + 5).attr("stroke", "#000").attr("stroke-width", 1.1);
      g.append("text").attr("x", x(t)).attr("y", y0 + PH + 27).attr("text-anchor", "middle").attr("font-size", 24).text(t);
    });

    // y ticks
    if (!isLog) {
      yTicksLin[r].forEach(t => {
        g.append("line").attr("x1", x0 - 5).attr("x2", x0).attr("y1", y(t)).attr("y2", y(t)).attr("stroke", "#000").attr("stroke-width", 1.1);
        g.append("text").attr("x", x0 - 8).attr("y", y(t)).attr("dy", "0.36em").attr("text-anchor", "end").attr("font-size", 24).text(t.toFixed(1));
      });
    } else {
      const [lo, hi] = yDomains[r][c];
      for (let e = Math.floor(Math.log10(lo)); e <= Math.ceil(Math.log10(hi)); e++) {
        for (let k = 1; k <= 9; k++) {
          const v = k * Math.pow(10, e);
          if (v < lo || v > hi) continue;
          const major = k === 1;
          g.append("line").attr("x1", x0 - (major ? 5 : 3)).attr("x2", x0).attr("y1", y(v)).attr("y2", y(v)).attr("stroke", "#000").attr("stroke-width", major ? 1.1 : 0.8);
          if (major) {
            const t = g.append("text").attr("x", x0 - 8).attr("y", y(v) + 11).attr("text-anchor", "end").attr("font-size", 24);
            sciText(t, e, "", 24);
          } else if (c === 0 && smallLogLabels[r] && smallLogLabels[r].some(s => Math.abs(s - v) < 1e-9)) {
            const t = g.append("text").attr("x", x0 - 6).attr("y", y(v) + 4.5).attr("text-anchor", "end").attr("font-size", 10.5);
            sciText(t, e, k + " \u00d7 ", 10.5);
          }
        }
      }
    }
    if (r === 0) {
      g.append("text").attr("x", x0 + PW / 2).attr("y", 33).attr("text-anchor", "middle").attr("font-size", 36.5).text(metrics[c]);
    }
    if (r === 2) {
      g.append("text").attr("x", x0 + PW / 2).attr("y", 1198).attr("text-anchor", "middle").attr("font-size", 31).text(xLabel);
    }
    if (c === 0) {
      const lx = r === 0 ? 36 : 55;
      g.append("text").attr("transform", `translate(${lx},${y0 + PH / 2}) rotate(-90)`).attr("text-anchor", "middle").attr("font-size", 30.5).text(datasets[r]);
    }
  }
}

// legend
const legX = [125, 301, 527, 744, 928];
const legY = 1237;
methods.forEach((name, m) => {
  const lg = svg.append("g");
  lg.append("line").attr("x1", legX[m]).attr("x2", legX[m] + 56).attr("y1", legY).attr("y2", legY)
    .attr("stroke", colors[m]).attr("stroke-width", 3.5).attr("stroke-opacity", 0.85);
  const sym = symbolFor(m);
  lg.append("path").attr("d", sym.d).attr("transform", `translate(${legX[m] + 28},${legY}) rotate(${sym.rot})`).attr("fill", colors[m]).attr("fill-opacity", 0.85);
  lg.append("text").attr("x", legX[m] + 76).attr("y", legY + 9).attr("font-size", 25).text(name);
});
</script></body></html>
